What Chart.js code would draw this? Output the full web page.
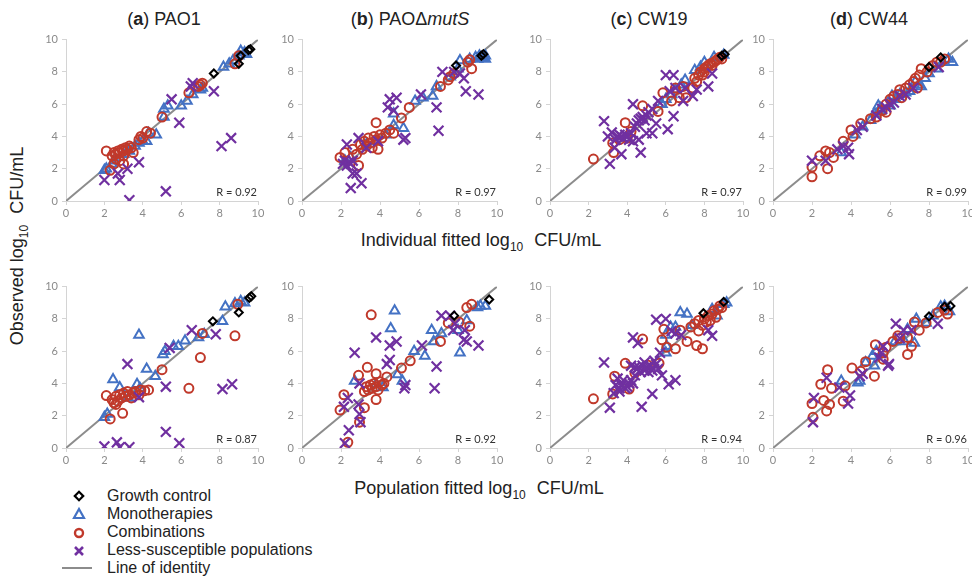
<!DOCTYPE html>
<html>
<head>
<meta charset="utf-8">
<script src="https://cdn.jsdelivr.net/npm/chart.js@4"></script>
<style>
  html, body { margin: 0; padding: 0; background: #fff; overflow: hidden; }
  body { width: 972px; height: 583px; position: relative; font-family: "Liberation Sans", Arial, sans-serif; color: #222; }
  .panel { position: absolute; }
  .title { position: absolute; font-size: 18px; line-height: 22px; white-space: nowrap; transform: translateX(-50%); }
  .axtitle { position: absolute; font-size: 18px; line-height: 22px; white-space: nowrap; transform: translateX(-50%); }
  .axtitle sub, #ytitle sub { font-size: 12px; margin-right: 6px; }
  #ytitle { position: absolute; left: 20px; top: 246px; font-size: 18px; line-height: 22px; white-space: nowrap; transform: translate(-50%, -50%) rotate(-90deg); }
  .leg { position: absolute; left: 107px; font-size: 16px; line-height: 18px; white-space: nowrap; }
  #legicons { position: absolute; left: 0; top: 485px; }
</style>
</head>
<body>
<div class="title" style="left:164px;top:8px">(<b>a</b>) PAO1</div>
<div class="title" style="left:410px;top:8px">(<b>b</b>) PAOΔ<i>mutS</i></div>
<div class="title" style="left:649px;top:8px">(<b>c</b>) CW19</div>
<div class="title" style="left:869px;top:8px">(<b>d</b>) CW44</div>
<div class="axtitle" style="left:481px;top:229px">Individual fitted log<sub>10</sub> CFU/mL</div>
<div class="axtitle" style="left:479px;top:477px">Population fitted log<sub>10</sub> CFU/mL</div>
<div id="ytitle">Observed log<sub>10</sub> CFU/mL</div>

<svg id="legicons" width="100" height="95">
  <rect x="76" y="8" width="6" height="6" transform="rotate(45 79 11)" fill="none" stroke="#000" stroke-width="2.2"/>
  <polygon points="79,24 84,33 74,33" fill="none" stroke="#4472c4" stroke-width="2.2"/>
  <circle cx="79" cy="48" r="4" fill="none" stroke="#c0392b" stroke-width="2.4"/>
  <path d="M75 62 L83 70 M83 62 L75 70" stroke="#7030a0" stroke-width="2.6"/>
  <line x1="62" y1="83" x2="92" y2="83" stroke="#8c8c8c" stroke-width="2"/>
</svg>
<div class="leg" style="top:487px">Growth control</div>
<div class="leg" style="top:505px">Monotherapies</div>
<div class="leg" style="top:523px">Combinations</div>
<div class="leg" style="top:541px">Less-susceptible populations</div>
<div class="leg" style="top:559px">Line of identity</div>

<script>
// axis ticks shared by every panel
const tickValues = [0, 2, 4, 6, 8, 10];
const identity = [[0, 0], [10, 10]];

// ---- (a) PAO1, individual fit ----
const pao1IndGrowth = [[7.7,7.9],[9.0,8.5],[9.1,9.0],[9.5,9.35],[9.6,9.4]];
const pao1IndMono = [[2.0,1.9],[2.1,2.0],[2.4,2.3],[2.5,2.5],[2.8,2.7],[3.0,2.9],[3.3,3.1],[3.6,3.4],[3.8,3.6],[4.0,3.7],[4.2,3.7],[4.3,4.2],[4.7,4.1],[5.1,5.2],[5.1,5.7],[5.3,5.9],[6.0,5.9],[6.3,6.2],[6.6,6.6],[7.0,6.9],[7.1,7.0],[8.2,8.3],[8.5,8.5],[8.7,8.7],[9.0,9.0],[9.1,9.3],[9.3,9.2],[9.4,9.1]];
const pao1IndCombo = [[2.1,3.1],[2.3,1.9],[2.5,2.3],[3.0,2.3],[2.4,2.8],[2.5,3.0],[2.6,2.9],[2.7,3.1],[2.8,3.0],[2.9,3.2],[3.0,3.1],[3.1,3.3],[3.2,3.2],[3.3,3.4],[3.0,2.8],[2.6,2.6],[2.8,2.5],[3.4,3.3],[3.5,3.0],[3.8,3.8],[3.9,4.0],[4.0,3.9],[4.2,4.3],[4.4,4.2],[5.0,5.2],[6.4,6.7],[6.9,7.1],[7.0,7.2],[7.1,7.3],[8.8,8.5],[9.0,9.0]];
const pao1IndLess = [[2.0,1.3],[2.7,1.7],[2.8,1.3],[3.3,0.05],[3.2,2.0],[3.8,2.4],[5.2,0.6],[5.5,6.3],[5.9,4.85],[6.6,7.3],[6.5,7.1],[7.7,6.8],[8.1,3.4],[8.6,3.9]];

// ---- (b) PAOΔmutS, individual fit ----
const mutSIndGrowth = [[7.9,8.4],[9.2,9.0],[9.3,9.1]];
const mutSIndMono = [[2.2,2.5],[2.5,2.7],[3.3,3.5],[3.8,3.7],[4.3,4.1],[4.7,4.7],[4.7,5.4],[5.2,4.5],[5.8,6.2],[6.2,6.4],[6.7,6.5],[6.9,7.1],[7.6,7.7],[8.0,8.2],[8.1,8.7],[8.6,8.8],[8.9,8.9],[9.1,9.0],[9.3,8.9],[9.4,9.0],[9.4,8.8],[9.0,8.8]];
const mutSIndCombo = [[1.95,2.7],[2.2,3.0],[2.6,3.2],[2.9,2.2],[2.8,2.9],[3.0,3.5],[3.1,3.2],[3.2,3.7],[3.3,3.4],[3.4,3.9],[3.5,3.6],[3.6,3.3],[3.7,4.0],[3.8,3.8],[3.8,4.85],[3.9,3.2],[4.0,4.1],[4.1,3.9],[4.3,4.2],[4.5,4.4],[4.7,4.2],[5.1,5.15],[5.5,5.8],[7.1,7.1],[7.5,7.5],[7.6,7.7],[7.8,7.9],[8.5,8.6],[8.6,8.75],[8.7,8.2]];
const mutSIndLess = [[2.1,2.3],[2.2,2.5],[2.3,2.2],[2.4,2.4],[2.5,2.3],[2.6,2.5],[2.5,0.8],[3.05,1.1],[2.8,1.7],[2.6,1.7],[2.3,3.5],[2.9,3.9],[3.3,3.3],[3.9,3.7],[4.4,5.8],[4.5,6.3],[4.85,6.4],[4.7,5.6],[5.2,3.8],[5.3,3.9],[6.1,6.6],[6.9,5.8],[7.0,4.35],[7.2,8.0],[7.8,8.0],[8.1,7.9],[8.3,7.6],[8.4,6.8],[9.05,6.6]];

// ---- (c) CW19, individual fit ----
const cw19IndGrowth = [[8.9,9.0],[9.05,9.1]];
const cw19IndMono = [[5.8,6.0],[6.0,6.3],[6.3,6.6],[6.5,6.9],[6.8,7.2],[7.0,7.5],[7.5,8.1],[7.8,8.3],[8.0,8.6],[8.5,8.9],[9.0,9.05]];
const cw19IndCombo = [[2.25,2.6],[3.3,3.0],[3.25,3.6],[3.6,3.8],[4.0,3.9],[4.2,4.3],[3.9,4.85],[4.8,5.9],[5.6,5.55],[5.85,6.7],[6.3,6.2],[6.5,7.0],[6.7,6.4],[6.9,7.1],[7.05,6.4],[7.4,7.0],[7.5,7.6],[7.6,7.4],[7.7,7.8],[7.8,8.0],[7.9,7.8],[8.0,8.2],[8.0,8.0],[8.1,8.3],[8.2,8.4],[8.3,8.5],[8.4,8.4],[8.5,8.6],[8.6,8.7],[8.7,8.8],[8.8,8.9],[8.9,8.8]];
const cw19IndLess = [[2.8,4.95],[3.0,4.0],[3.1,2.3],[3.2,4.25],[3.35,3.3],[3.4,3.8],[3.5,4.0],[3.6,4.1],[3.7,2.9],[3.7,4.0],[3.8,3.9],[3.9,4.1],[4.0,4.0],[4.1,3.8],[4.2,4.2],[4.3,3.7],[4.3,6.0],[4.4,4.6],[4.5,4.8],[4.6,3.8],[4.6,5.0],[4.7,3.0],[4.7,5.1],[4.8,5.2],[4.9,5.0],[5.0,4.2],[5.0,5.3],[5.1,5.5],[5.3,4.2],[5.3,5.7],[5.5,4.8],[5.6,6.2],[6.0,7.8],[6.1,4.45],[6.2,6.8],[6.4,7.8],[6.4,5.25],[6.5,7.0],[6.9,6.2],[7.0,7.0],[7.4,6.5],[7.6,6.9],[8.2,7.1],[8.4,7.9]];

// ---- (d) CW44, individual fit ----
const cw44IndGrowth = [[8.0,8.3],[8.6,8.9]];
const cw44IndMono = [[3.5,3.0],[4.2,4.1],[4.6,4.6],[5.0,5.0],[5.2,5.4],[5.4,5.9],[5.5,5.6],[5.5,5.75],[6.0,5.9],[6.1,6.5],[6.3,6.3],[6.5,6.6],[6.8,6.7],[7.0,6.8],[7.3,7.4],[7.5,7.2],[7.6,7.1],[7.8,7.6],[8.0,7.9],[8.4,8.2],[8.7,8.6],[9.0,8.8],[9.2,8.6]];
const cw44IndCombo = [[2.0,1.5],[2.0,2.1],[2.4,2.8],[2.7,3.1],[2.9,3.0],[2.8,2.0],[3.1,2.7],[3.6,3.7],[4.0,4.4],[4.1,4.0],[4.5,4.8],[5.0,5.1],[5.3,5.2],[5.6,5.6],[5.8,5.5],[5.8,6.0],[6.0,6.3],[6.2,6.5],[6.4,6.6],[6.5,6.9],[6.6,6.4],[6.8,7.0],[7.0,7.2],[7.2,7.4],[7.3,7.6],[7.4,7.0],[7.5,7.8],[7.6,8.2],[7.9,8.0],[8.2,8.4],[8.4,8.6],[8.6,8.6],[8.8,8.8]];
const cw44IndLess = [[2.0,2.5],[2.7,2.5],[3.3,3.2],[3.6,3.4],[3.85,3.3],[3.9,2.9],[4.3,4.4],[4.6,4.6],[5.3,5.3],[5.6,5.7],[5.8,5.8],[6.0,6.0],[6.2,6.1],[6.5,6.5],[6.8,6.6],[7.2,7.0],[8.5,8.3]];

// ---- (a) PAO1, population fit ----
const pao1PopGrowth = [[7.65,7.85],[9.0,8.4],[9.55,9.3],[9.65,9.4]];
const pao1PopMono = [[2.0,1.9],[2.15,2.1],[2.45,4.25],[2.8,3.75],[3.25,3.1],[3.7,3.95],[3.85,3.7],[3.8,7.0],[4.2,4.9],[4.65,4.45],[5.05,5.8],[5.15,6.0],[5.6,6.3],[5.85,6.3],[6.2,6.65],[6.9,6.85],[7.2,7.05],[8.15,7.85],[8.3,8.75],[8.8,8.95],[9.1,9.1],[9.3,9.0]];
const pao1PopCombo = [[2.3,1.8],[2.1,3.25],[2.95,2.15],[2.4,3.0],[2.5,2.8],[2.6,3.2],[2.7,2.9],[2.8,3.3],[2.9,3.1],[3.0,3.4],[3.1,3.2],[3.2,3.5],[3.3,3.3],[3.4,3.1],[3.5,3.4],[3.6,3.5],[3.8,3.3],[3.9,3.6],[4.1,3.55],[4.3,3.6],[2.6,2.7],[5.0,4.85],[6.4,3.7],[7.0,5.6],[7.1,7.1],[8.8,6.95],[8.95,8.9]];
const pao1PopLess = [[2.0,0.1],[2.65,0.35],[2.8,0.05],[3.3,0.05],[3.2,5.2],[3.8,3.15],[5.2,3.8],[5.2,1.0],[5.9,0.3],[5.4,6.2],[6.55,7.3],[7.8,7.05],[8.15,3.65],[8.65,3.95]];

// ---- (b) PAOΔmutS, population fit ----
const mutSPopGrowth = [[7.8,8.2],[9.6,9.2]];
const mutSPopMono = [[2.7,4.15],[3.8,3.95],[4.15,3.75],[4.55,7.4],[4.75,8.5],[4.9,4.55],[5.15,4.15],[5.75,6.0],[6.3,5.7],[6.65,7.3],[6.75,6.6],[7.15,7.1],[8.0,7.3],[8.1,5.9],[8.45,7.9],[9.0,8.7],[9.15,8.8],[9.4,8.8]];
const mutSPopCombo = [[1.95,2.35],[2.15,3.3],[2.35,0.35],[2.95,1.6],[3.2,2.5],[2.9,4.5],[3.35,5.0],[3.55,8.25],[3.8,4.6],[3.8,3.0],[3.2,3.5],[3.3,3.8],[3.4,3.6],[3.5,3.9],[3.6,3.7],[3.7,4.0],[3.8,3.8],[3.9,3.6],[4.0,4.1],[4.1,3.9],[4.2,4.0],[4.35,4.4],[5.1,4.95],[5.55,5.4],[7.1,6.6],[7.5,7.75],[8.05,7.8],[8.6,7.55],[8.45,8.7],[8.7,8.9]];
const mutSPopLess = [[2.2,0.3],[2.4,1.1],[2.15,2.55],[2.35,3.1],[2.95,2.1],[3.0,1.6],[2.9,2.7],[2.7,5.9],[2.95,4.0],[3.8,6.85],[4.5,6.35],[4.85,6.6],[4.35,5.2],[4.5,5.45],[5.3,3.9],[5.25,3.7],[6.15,6.35],[6.9,5.05],[6.8,3.7],[7.15,8.2],[7.6,8.2],[7.75,7.3],[7.85,7.7],[8.35,7.3],[8.3,6.7],[8.45,6.6],[9.05,6.35]];

// ---- (c) CW19, population fit ----
const cw19PopGrowth = [[7.95,8.35],[9.0,9.05]];
const cw19PopMono = [[6.0,5.9],[6.05,6.3],[6.0,7.0],[6.25,7.5],[6.5,7.5],[6.75,8.4],[7.1,8.3],[7.35,7.6],[8.4,8.6],[8.65,8.2],[9.0,8.9],[9.15,9.0]];
const cw19PopCombo = [[2.25,3.05],[3.25,3.35],[3.35,4.45],[3.9,5.25],[4.1,3.65],[4.4,4.65],[4.8,6.75],[5.05,5.15],[5.65,5.25],[5.8,6.7],[5.9,7.35],[6.05,6.25],[6.5,6.15],[6.75,7.3],[7.1,6.6],[7.6,6.35],[7.9,6.15],[7.7,7.25],[7.3,7.5],[7.5,7.7],[7.7,7.9],[7.9,7.6],[8.0,8.0],[8.1,7.8],[8.2,8.2],[8.3,7.9],[8.4,8.3],[8.5,8.5],[8.6,8.1],[8.7,8.6],[8.8,8.8],[8.9,8.7]];
const cw19PopLess = [[2.8,5.3],[3.1,2.5],[3.3,3.4],[3.4,3.9],[3.5,4.3],[3.6,3.5],[3.6,3.7],[3.7,3.9],[3.8,4.2],[3.9,3.7],[4.0,3.8],[4.1,4.0],[4.2,4.2],[4.2,5.1],[4.3,4.0],[4.3,6.85],[4.4,4.5],[4.4,5.0],[4.5,4.9],[4.55,6.5],[4.6,5.0],[4.7,4.7],[4.75,2.55],[4.8,5.1],[4.9,4.8],[4.9,5.3],[5.0,5.0],[5.1,4.7],[5.2,5.1],[5.3,4.8],[5.3,3.35],[5.4,5.4],[5.5,5.2],[5.5,7.95],[5.6,4.9],[5.7,5.9],[5.8,4.5],[6.0,8.0],[6.15,3.95],[6.3,7.25],[6.5,4.2],[6.5,7.1],[6.8,7.0],[8.2,7.3],[8.4,6.95]];

// ---- (d) CW44, population fit ----
const cw44PopGrowth = [[8.0,8.15],[8.8,8.75],[9.1,8.8]];
const cw44PopMono = [[3.5,4.15],[4.35,4.05],[4.45,4.15],[4.75,5.3],[5.1,5.7],[5.2,5.1],[5.3,6.0],[6.25,6.6],[6.75,6.6],[6.9,7.35],[7.25,6.5],[7.35,8.0],[7.85,7.75],[8.2,8.2],[8.6,8.75],[8.8,8.8],[9.05,8.45]];
const cw44PopCombo = [[2.05,1.9],[2.0,2.75],[2.45,3.95],[2.6,2.95],[2.75,2.3],[2.9,2.7],[2.8,4.85],[3.0,3.7],[3.6,2.9],[3.7,3.85],[4.05,4.95],[4.5,4.75],[4.75,5.35],[5.2,4.45],[5.25,6.4],[5.65,5.5],[5.65,5.9],[5.8,6.25],[6.15,6.6],[6.4,6.95],[6.5,6.8],[6.9,6.85],[6.9,5.8],[7.1,6.3],[7.25,7.8],[7.5,7.3],[7.85,7.75],[8.45,8.4],[8.8,8.55],[8.95,8.3]];
const cw44PopLess = [[2.05,1.6],[2.1,3.1],[2.75,4.35],[3.4,3.75],[3.85,2.75],[3.95,3.25],[4.45,4.45],[4.6,4.6],[5.45,5.6],[5.55,5.9],[5.65,6.3],[5.9,5.1],[5.95,5.2],[6.3,7.7],[6.5,6.8],[6.7,7.3],[7.1,7.3],[8.45,7.7]];

const rValues = ['0.92', '0.97', '0.97', '0.99', '0.87', '0.92', '0.94', '0.96'];

// panel placement: plot area in page pixels
const plotLefts = [66, 302, 550, 773];
const plotRights = [258, 497, 743, 968];
const rowTops = [37, 284];
const plotHeight = 164;

const panelSeries = [
  [pao1IndGrowth, pao1IndMono, pao1IndCombo, pao1IndLess],
  [mutSIndGrowth, mutSIndMono, mutSIndCombo, mutSIndLess],
  [cw19IndGrowth, cw19IndMono, cw19IndCombo, cw19IndLess],
  [cw44IndGrowth, cw44IndMono, cw44IndCombo, cw44IndLess],
  [pao1PopGrowth, pao1PopMono, pao1PopCombo, pao1PopLess],
  [mutSPopGrowth, mutSPopMono, mutSPopCombo, mutSPopLess],
  [cw19PopGrowth, cw19PopMono, cw19PopCombo, cw19PopLess],
  [cw44PopGrowth, cw44PopMono, cw44PopCombo, cw44PopLess],
];

const toPts = arr => arr.map(([x, y]) => ({ x, y }));

const rLabel = {
  id: 'rLabel',
  afterDatasetsDraw(chart, args, opts) {
    const { ctx, chartArea } = chart;
    ctx.save();
    ctx.font = '11px Lato, sans-serif';
    ctx.fillStyle = '#333';
    ctx.textAlign = 'right';
    ctx.textBaseline = 'middle';
    ctx.fillText('R = ' + opts.text, chartArea.right - 1, chartArea.bottom - 9);
    ctx.restore();
  }
};

const Y_W = 34, PAD_R = 10, PAD_T = 8, X_H = 20;
const axisGrey = '#d4d4d4';
const tickGrey = '#8a8a8a';

panelSeries.forEach((series, i) => {
  const col = i % 4, row = Math.floor(i / 4);
  const plotW = plotRights[col] - plotLefts[col];
  const div = document.createElement('div');
  div.className = 'panel';
  div.style.left = (plotLefts[col] - Y_W) + 'px';
  div.style.top = (rowTops[row] - PAD_T) + 'px';
  const cv = document.createElement('canvas');
  cv.width = Y_W + plotW + PAD_R;
  cv.height = PAD_T + plotHeight + X_H;
  div.appendChild(cv);
  document.body.appendChild(div);

  const [growth, mono, combo, less] = series;
  new Chart(cv, {
    type: 'scatter',
    data: {
      datasets: [
        { type: 'line', data: toPts(identity), borderColor: '#8c8c8c', borderWidth: 2, pointRadius: 0, order: 10 },
        { data: toPts(mono), pointStyle: 'triangle', pointRadius: 5.5, borderColor: '#4472c4', backgroundColor: 'rgba(0,0,0,0)', borderWidth: 2, order: 4 },
        { data: toPts(combo), pointStyle: 'circle', pointRadius: 4.5, borderColor: '#c0392b', backgroundColor: 'rgba(0,0,0,0)', borderWidth: 2, order: 3 },
        { data: toPts(less), pointStyle: 'crossRot', pointRadius: 7, borderColor: '#7030a0', borderWidth: 2.2, order: 2 },
        { data: toPts(growth), pointStyle: 'rectRot', pointRadius: 4, borderColor: '#000', backgroundColor: 'rgba(0,0,0,0)', borderWidth: 2, order: 1 },
      ]
    },
    options: {
      responsive: false,
      animation: false,
      devicePixelRatio: 1,
      layout: { padding: { left: 0, right: PAD_R, top: PAD_T, bottom: 0 } },
      plugins: { legend: { display: false }, tooltip: { enabled: false }, rLabel: { text: rValues[i] } },
      scales: {
        x: {
          type: 'linear', min: 0, max: 10,
          afterFit: s => { s.height = X_H; },
          afterBuildTicks: s => { s.ticks = tickValues.map(v => ({ value: v })); },
          grid: { drawOnChartArea: false, drawTicks: true, tickLength: 4, color: axisGrey },
          border: { color: axisGrey },
          ticks: { color: tickGrey, font: { family: 'Lato', size: 11 }, padding: 2, maxRotation: 0 }
        },
        y: {
          type: 'linear', min: 0, max: 10,
          afterFit: s => { s.width = Y_W; },
          afterBuildTicks: s => { s.ticks = tickValues.map(v => ({ value: v })); },
          grid: { drawOnChartArea: false, drawTicks: true, tickLength: 4, color: axisGrey },
          border: { color: axisGrey },
          ticks: { color: tickGrey, font: { family: 'Lato', size: 11 }, padding: 4 }
        }
      }
    },
    plugins: [rLabel]
  });
});
</script>
</body>
</html>
